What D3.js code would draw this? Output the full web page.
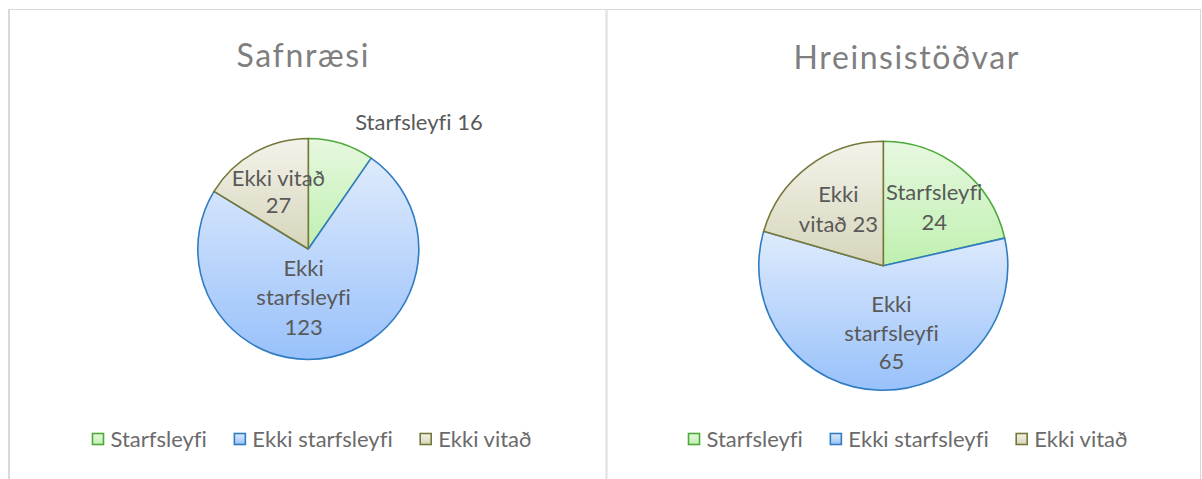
<!DOCTYPE html>
<html><head><meta charset="utf-8">
<script src="https://cdn.jsdelivr.net/npm/d3@7"></script>
<style>body{margin:0;background:#fff;} svg{display:block;font-family:Lato,"Open Sans",sans-serif;font-variant-ligatures:none;font-feature-settings:"liga" 0;}</style>
</head><body>
<svg id="c" width="1202" height="479"></svg>
<script>
const categories = ["Starfsleyfi", "Ekki starfsleyfi", "Ekki vitað"];
const chartTitles = ["Safnræsi", "Hreinsistöðvar"];
const safnraesiValues = [16, 123, 27];
const hreinsistodvarValues = [24, 65, 23];

const fillTop = ["#e7f8e0", "#dfebfc", "#f4f3ea"];
const fillBottom = ["#bff0b0", "#98c1fb", "#d6d5bb"];
const strokeCols = ["#4ea93b", "#2f7cc2", "#76783a"];

const svg = d3.select("#c");
const defs = svg.append("defs");
categories.forEach((c,i)=>{
  const g = defs.append("linearGradient").attr("id","g"+i).attr("x1",0).attr("y1",0).attr("x2",0).attr("y2",1);
  g.append("stop").attr("offset","0%").attr("stop-color",fillTop[i]);
  g.append("stop").attr("offset","100%").attr("stop-color",fillBottom[i]);
});

// panel borders
svg.append("rect").attr("x",8.5).attr("y",9.5).attr("width",597.5).attr("height",480).attr("fill","none").attr("stroke","#d9d9d9").attr("stroke-width",1);
svg.append("line").attr("x1",9.5).attr("x2",9.5).attr("y1",9).attr("y2",479).attr("stroke","#d9d9d9");
svg.append("rect").attr("x",607).attr("y",9.5).attr("width",593.5).attr("height",480).attr("fill","none").attr("stroke","#d9d9d9").attr("stroke-width",1);

const panels = [
  {values: safnraesiValues, title: chartTitles[0], cx: 308.3, cy: 249, r: 110.5, tx: 302.5, ty: 67, tw: 132,
   legendX: 92, labelMode: [ {out:true}, {f:0.45, dx:-15, dy:0}, {f:0.59, dx:2, dy:0, lh:27} ],
   labelLines: [["Starfsleyfi 16"], ["Ekki","starfsleyfi","123"], ["Ekki vitað","27"]]},
  {values: hreinsistodvarValues, title: chartTitles[1], cx: 883.3, cy: 265.8, r: 124.5, tx: 906, ty: 69, tw: 225,
   legendX: 688, labelMode: [ {f:0.63, dx:2, dy:3}, {f:0.53, dx:10, dy:1.5, lh:28.5}, {f:0.6, dx:0, dy:3} ],
   labelLines: [["Starfsleyfi","24"], ["Ekki","starfsleyfi","65"], ["Ekki","vitað 23"]]}
];

const pie = d3.pie().sort(null).value(d=>d);
const lineH = 29.5;

panels.forEach(p=>{
  const g = svg.append("g");
  g.append("text").attr("x",p.tx).attr("y",p.ty).attr("text-anchor","middle")
    .attr("font-size",32).attr("fill","#7f7f7f")
    .attr("textLength",p.tw).attr("lengthAdjust","spacing").text(p.title);
  const arcs = pie(p.values);
  const arc = d3.arc().innerRadius(0).outerRadius(p.r);
  const pg = g.append("g").attr("transform",`translate(${p.cx},${p.cy})`);
  pg.selectAll("path").data(arcs).join("path")
    .attr("d",arc).attr("fill",(d,i)=>`url(#g${i})`)
    .attr("stroke",(d,i)=>strokeCols[i]).attr("stroke-width",1.6).attr("stroke-linejoin","round");
  arcs.forEach((a,i)=>{
    const m = p.labelMode[i];
    const lines = p.labelLines[i];
    const lh = m.lh || lineH;
    const mid = (a.startAngle+a.endAngle)/2;
    let x, y, anchor="middle";
    if (m.out) {
      const rr = p.r*1.18;
      x = Math.sin(mid)*rr + 8; y = -Math.cos(mid)*rr - 2.5; anchor="start";
    } else {
      const rr = p.r*m.f;
      x = Math.sin(mid)*rr + m.dx; y = -Math.cos(mid)*rr + m.dy;
    }
    const t = pg.append("text").attr("text-anchor",anchor).attr("font-size",22).attr("fill","#595959");
    const y0 = y - (lines.length-1)*lh/2;
    lines.forEach((ln,k)=>{
      t.append("tspan").attr("x",x).attr("y",y0+k*lh).attr("dy","0.35em").text(ln);
    });
  });
  // legend
  const lg = g.append("g").attr("transform",`translate(${p.legendX},439)`);
  let xoff = 0;
  categories.forEach((c,i)=>{
    const item = lg.append("g").attr("transform",`translate(${xoff},0)`);
    item.append("rect").attr("x",0.5).attr("y",-5.5).attr("width",11).attr("height",11)
      .attr("fill",`url(#g${i})`).attr("stroke",strokeCols[i]).attr("stroke-width",1.6);
    const tx = item.append("text").attr("x",18.5).attr("y",0).attr("dy","0.35em")
      .attr("font-size",22).attr("fill","#6b6b6b").text(c);
    const w = tx.node().getComputedTextLength();
    xoff += 18.5 + w + 27;
  });
});
</script>
</body></html>
